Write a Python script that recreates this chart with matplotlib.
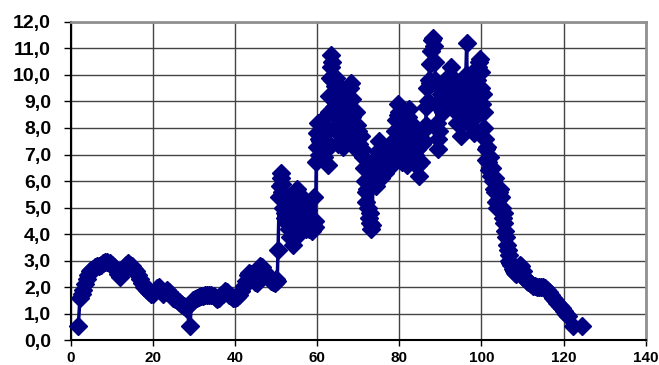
import matplotlib.pyplot as plt
import numpy as np

# measured series, split into stretches of the curve (x, value)
start = [(1.9, 0.55), (2.3, 1.6), (2.7, 1.75), (3.1, 1.9), (3.5, 2.1), (3.9, 2.3), (4.3, 2.45),
         (4.7, 2.6), (5.1, 2.65), (5.5, 2.7), (6.0, 2.75), (6.5, 2.8), (7.0, 2.8), (7.5, 2.85),
         (8.0, 2.9), (8.5, 2.95), (9.0, 2.95), (9.5, 2.9), (10.0, 2.85), (10.5, 2.75), (11.0, 2.65),
         (11.5, 2.5), (12.0, 2.4), (12.5, 2.55), (13.0, 2.7), (13.5, 2.85), (14.0, 2.9), (14.5, 2.85),
         (15.0, 2.8), (15.5, 2.7), (16.0, 2.6), (16.5, 2.45), (17.0, 2.3), (17.5, 2.15), (18.0, 2.0),
         (18.5, 1.9), (19.0, 1.8), (19.5, 1.75), (20.0, 1.75), (20.5, 1.85), (21.0, 1.95), (21.5, 2.0),
         (22.0, 1.85), (22.5, 1.75), (23.0, 1.8), (23.5, 1.9), (24.0, 1.8), (24.5, 1.7), (25.0, 1.6),
         (25.5, 1.55), (26.0, 1.5), (26.5, 1.45), (27.0, 1.35), (27.5, 1.3), (28.0, 1.2), (29.1, 0.55)]

plateau = [(29.4, 1.4), (29.8, 1.5), (30.3, 1.55), (30.8, 1.6), (31.3, 1.62), (31.8, 1.65), (32.3, 1.68),
           (32.8, 1.7), (33.3, 1.7), (33.8, 1.7), (34.3, 1.7), (34.8, 1.65), (35.3, 1.6), (35.7, 1.55),
           (36.2, 1.6), (36.7, 1.7), (37.2, 1.75), (37.7, 1.85), (38.1, 1.8), (38.6, 1.72), (39.1, 1.65),
           (39.6, 1.6), (40.1, 1.6), (40.6, 1.62), (41.1, 1.7), (41.6, 1.85), (42.1, 2.05), (42.6, 2.25),
           (43.1, 2.45), (43.5, 2.55), (44.0, 2.5), (44.5, 2.35), (45.0, 2.2), (45.4, 2.15), (45.8, 2.5),
           (46.2, 2.8), (46.7, 2.75), (47.2, 2.6), (47.7, 2.45), (48.2, 2.35), (48.7, 2.25), (49.2, 2.2),
           (49.7, 2.15), (50.0, 2.3), (50.3, 2.25), (50.5, 3.4)]

climb = [(50.8, 5.4), (51.0, 5.8), (51.1, 6.3), (51.3, 6.1), (51.4, 5.6), (51.5, 5.9), (51.7, 5.5),
         (51.8, 5.0), (52.0, 5.3), (52.1, 4.8), (52.3, 4.6), (52.5, 5.1), (52.7, 4.4), (52.9, 4.8),
         (53.1, 4.2), (53.3, 3.9), (53.5, 4.5), (53.7, 3.9), (54.1, 3.6), (54.3, 4.2), (54.5, 4.7),
         (54.7, 5.3), (54.9, 5.6), (55.1, 5.7), (55.3, 5.1), (55.5, 4.6), (55.7, 4.0), (55.9, 4.5),
         (56.1, 5.0), (56.3, 5.4), (56.5, 5.0), (56.7, 4.7), (56.9, 5.2), (57.1, 4.6), (57.3, 4.2),
         (57.5, 4.5), (57.7, 4.9), (57.9, 4.4), (58.1, 4.2), (58.3, 4.6), (58.5, 4.3), (58.7, 4.1),
         (58.9, 4.4), (59.1, 4.2), (59.3, 5.4), (59.5, 4.5), (59.6, 4.25)]

first_peak = [(59.8, 6.7), (59.9, 7.3), (60.1, 7.8), (60.2, 8.2), (60.4, 7.6), (60.5, 7.0), (60.7, 7.5),
              (60.9, 8.1), (61.1, 8.3), (61.3, 7.7), (61.5, 7.2), (61.7, 6.9), (61.9, 7.4), (62.1, 7.9),
              (62.3, 7.2), (62.6, 6.6), (62.8, 7.4), (62.9, 8.6), (63.0, 9.2), (63.1, 9.9), (63.3, 10.3),
              (63.5, 10.75), (63.6, 10.5), (63.7, 9.8), (63.8, 9.3), (63.9, 8.7), (64.0, 8.0), (64.2, 8.8),
              (64.4, 9.6), (64.5, 9.9), (64.7, 9.2), (64.8, 8.5), (65.0, 7.8), (65.2, 7.4), (65.4, 8.2),
              (65.6, 9.0), (65.8, 9.5), (66.0, 8.8), (66.2, 8.1), (66.4, 7.3), (66.6, 7.8), (66.8, 8.6),
              (67.0, 9.3), (67.2, 9.0), (67.4, 8.3), (67.6, 7.7), (67.8, 8.5), (68.0, 9.5), (68.2, 9.7),
              (68.4, 9.1), (68.6, 8.4), (68.8, 7.8), (69.0, 7.3), (69.2, 8.0), (69.4, 8.6), (69.6, 8.1),
              (69.8, 7.6), (70.0, 7.9), (70.3, 7.4), (70.6, 7.7), (70.9, 7.2), (71.2, 6.9)]

dip = [(71.4, 6.5), (71.6, 6.0), (71.8, 5.6), (72.0, 5.2), (72.2, 5.7), (72.4, 5.0), (72.6, 4.6),
       (72.8, 4.8), (73.0, 4.4), (73.2, 4.2), (73.4, 4.35), (73.6, 6.0)]

middle = [(73.8, 6.3), (74.0, 6.8), (74.2, 6.2), (74.4, 5.8), (74.6, 6.5), (74.8, 7.1), (75.0, 7.5),
          (75.2, 7.2), (75.4, 6.6), (75.6, 6.1), (75.8, 6.7), (76.0, 7.3), (76.2, 6.9), (76.5, 6.3),
          (76.8, 6.8), (77.1, 6.5), (77.4, 7.0), (77.7, 7.4), (78.0, 7.0), (78.3, 6.6), (78.6, 7.3),
          (78.9, 7.9), (79.2, 8.3), (79.4, 7.6), (79.6, 8.5), (79.8, 8.9), (80.0, 8.6), (80.2, 7.8),
          (80.4, 7.1), (80.6, 6.7), (80.8, 7.4), (81.0, 8.1), (81.2, 8.6), (81.4, 8.0), (81.6, 7.3),
          (81.8, 6.6), (82.0, 7.2), (82.2, 8.4), (82.4, 8.7), (82.6, 8.0), (82.8, 7.4), (83.0, 6.8),
          (83.2, 7.3), (83.4, 8.1), (83.6, 7.6), (83.8, 7.0), (84.0, 6.6), (84.3, 7.2), (84.6, 6.6),
          (84.9, 6.2), (85.2, 6.7), (85.5, 7.4)]

second_peak = [(85.8, 7.9), (86.1, 7.5), (86.4, 8.1), (86.6, 8.8), (86.8, 9.5), (87.0, 9.0), (87.2, 9.8),
               (87.4, 10.4), (87.6, 9.7), (87.8, 10.9), (88.0, 11.3), (88.2, 11.4), (88.4, 11.1),
               (88.6, 10.5), (88.8, 9.8), (89.0, 8.9), (89.2, 8.2), (89.4, 7.6), (89.5, 7.2), (89.7, 7.9),
               (89.9, 8.8), (90.1, 9.3), (90.3, 9.6), (90.5, 9.0), (90.7, 8.6), (90.9, 9.2), (91.1, 9.7),
               (91.3, 9.4), (91.5, 8.9), (91.7, 9.5), (91.9, 9.9), (92.1, 9.6), (92.3, 10.0), (92.6, 10.3),
               (92.8, 9.9), (93.0, 9.4), (93.2, 8.9), (93.4, 9.6), (93.6, 9.2), (93.8, 8.6), (94.0, 8.2),
               (94.2, 8.8), (94.4, 9.4), (94.6, 8.9), (94.8, 8.1), (95.0, 7.7), (95.2, 8.3), (95.4, 9.0),
               (95.6, 9.6), (95.8, 9.8)]

third_peak = [(96.2, 10.0), (96.4, 11.2), (96.5, 10.0), (96.7, 9.5), (96.9, 8.8), (97.1, 8.1), (97.3, 8.6),
              (97.5, 9.4), (97.7, 10.0), (97.9, 9.3), (98.1, 8.5), (98.3, 7.8), (98.5, 8.4), (98.7, 9.1),
              (98.9, 9.8), (99.1, 10.3), (99.3, 10.5), (99.6, 10.6), (99.8, 10.1), (100.0, 9.5),
              (100.1, 8.9), (100.3, 9.3), (100.5, 8.6), (100.6, 8.0), (100.8, 7.6)]

decline = [(101.0, 7.2), (101.2, 6.8), (101.4, 7.3), (101.6, 6.7), (101.8, 6.4), (102.0, 6.9), (102.2, 6.5),
           (102.4, 6.2), (102.6, 6.5), (102.8, 6.0), (103.0, 5.7), (103.2, 6.1), (103.4, 5.6), (103.6, 5.2),
           (103.8, 5.0), (104.0, 5.3), (104.2, 5.6), (104.5, 5.7), (104.8, 5.4), (105.0, 5.0), (105.2, 4.6),
           (105.4, 4.8), (105.6, 4.4), (105.8, 4.1), (106.0, 3.9), (106.2, 3.6), (106.4, 3.4), (106.6, 3.2),
           (106.8, 3.0), (107.0, 2.9), (107.3, 2.85), (107.6, 2.7), (107.9, 2.6), (108.2, 2.55),
           (108.5, 2.5), (108.8, 2.6), (109.1, 2.75), (109.4, 2.85), (109.7, 2.8), (110.0, 2.6),
           (110.2, 2.4), (110.5, 2.35), (110.8, 2.3), (111.1, 2.25), (111.4, 2.2), (111.7, 2.15),
           (112.0, 2.1), (112.5, 2.05), (113.0, 2.05), (113.5, 2.0), (114.0, 2.0), (114.5, 2.0),
           (115.0, 2.0), (115.5, 1.95), (116.0, 1.9), (116.5, 1.8), (117.0, 1.7), (117.5, 1.6),
           (118.0, 1.5), (118.5, 1.4), (119.0, 1.3), (119.5, 1.2), (120.0, 1.1), (120.5, 1.0),
           (121.1, 0.9), (122.4, 0.55), (124.4, 0.55)]

x_ticks = [0, 20, 40, 60, 80, 100, 120, 140]
y_ticks = np.arange(0, 12.5, 1.0)

pts = start + plateau + climb + first_peak + dip + middle + second_peak + third_peak + decline
xs = [p[0] for p in pts]
ys = [p[1] for p in pts]

plt.rcParams['font.family'] = ['Liberation Sans', 'DejaVu Sans']
plt.rcParams['font.weight'] = 'bold'

fig = plt.figure(figsize=(6.59, 3.65), dpi=100)
ax = fig.add_axes([0.107, 0.068, 0.873, 0.872])

navy = '#000080'
ax.plot(xs, ys, color=navy, lw=2.5, marker='D', markersize=8.8,
        markerfacecolor=navy, markeredgecolor=navy, zorder=3, clip_on=False)

ax.set_xlim(0, 140)
ax.set_ylim(0, 12)
ax.set_xticks(x_ticks)
ax.set_yticks(y_ticks)
ax.set_yticklabels(['{:.1f}'.format(v).replace('.', ',') for v in y_ticks])
ax.tick_params(axis='y', labelsize=14, length=5, width=1, pad=9, direction='out')
ax.tick_params(axis='x', labelsize=11, length=4, width=1, pad=4, direction='out')

ax.grid(True, color='#444444', lw=1)
ax.set_axisbelow(True)

for side in ('left', 'bottom'):
    ax.spines[side].set_color('black')
    ax.spines[side].set_linewidth(1.5)
for side in ('top', 'right'):
    ax.spines[side].set_color('#909090')
    ax.spines[side].set_linewidth(2)

fig.savefig('out.png', dpi=100)
